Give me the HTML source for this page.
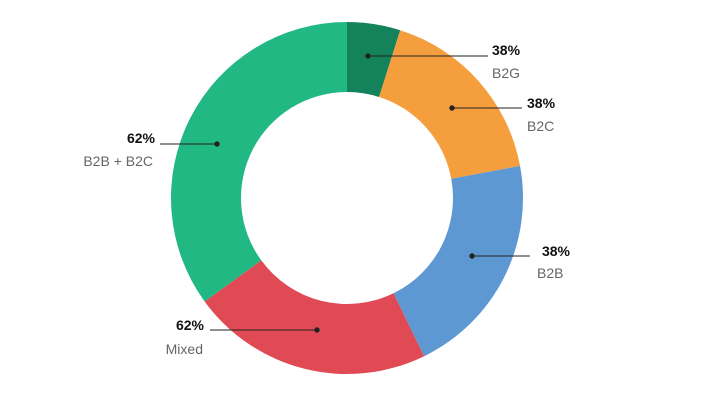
<!DOCTYPE html>
<html><head><style>
html,body{margin:0;padding:0;background:#fff;}
svg{display:block;}
text{font-family:"Liberation Sans",sans-serif;font-size:14px;}
.v{font-weight:bold;fill:#111;}
.l{fill:#666;}
</style></head><body>
<svg width="704" height="400" viewBox="0 0 704 400">
<path fill="#14825a" d="M347,22 A176 176 0 0 1 400.22,30.24 L379.05,96.96 A106 106 0 0 0 347,92 Z"/>
<path fill="#f59e3d" d="M400.22,30.24 A176 176 0 0 1 520.06,165.93 L451.23,178.69 A106 106 0 0 0 379.05,96.96 Z"/>
<path fill="#5e98d2" d="M520.06,165.93 A176 176 0 0 1 424.16,356.19 L393.47,293.27 A106 106 0 0 0 451.23,178.69 Z"/>
<path fill="#e04a55" d="M424.16,356.19 A176 176 0 0 1 204.62,301.45 L261.25,260.31 A106 106 0 0 0 393.47,293.27 Z"/>
<path fill="#22b884" d="M204.62,301.45 A176 176 0 0 1 347,22 L347,92 A106 106 0 0 0 261.25,260.31 Z"/>
<g stroke="#222" stroke-width="1" fill="#222">
<line x1="368" y1="56" x2="488" y2="56"/><circle cx="368" cy="56" r="2.2"/>
<line x1="452" y1="108" x2="522" y2="108"/><circle cx="452" cy="108" r="2.2"/>
<line x1="472" y1="256" x2="530" y2="256"/><circle cx="472" cy="256" r="2.2"/>
<line x1="160" y1="144" x2="217" y2="144"/><circle cx="217" cy="144" r="2.2"/>
<line x1="210" y1="330" x2="317" y2="330"/><circle cx="317" cy="330" r="2.2"/>
</g>
<text class="v" x="492" y="55">38%</text><text class="l" x="492" y="78">B2G</text>
<text class="v" x="527" y="108">38%</text><text class="l" x="527" y="131">B2C</text>
<text class="v" x="570" y="256" text-anchor="end">38%</text><text class="l" x="537" y="278">B2B</text>
<text class="v" x="155" y="143" text-anchor="end">62%</text><text class="l" x="153" y="166" text-anchor="end">B2B + B2C</text>
<text class="v" x="204" y="330" text-anchor="end">62%</text><text class="l" x="203" y="354" text-anchor="end">Mixed</text>
</svg>
</body></html>
